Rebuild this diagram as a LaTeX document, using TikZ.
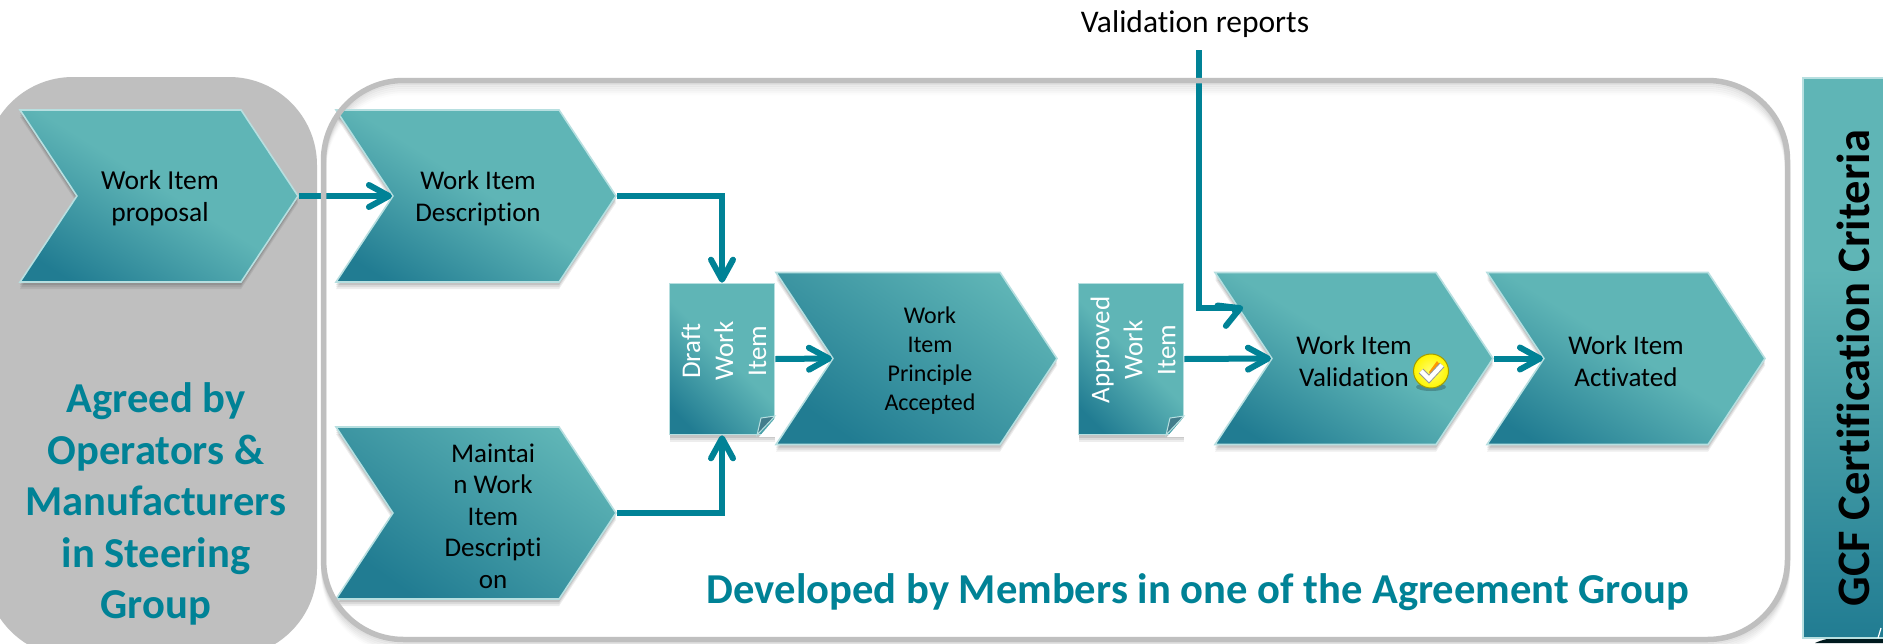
\documentclass[tikz,border=0pt]{standalone}
\usepackage{fontspec}
\setmainfont{Carlito}[Ligatures=NoCommon]
\usetikzlibrary{arrows.meta,shapes.symbols,shadows}
\definecolor{tealc}{HTML}{008296}
\definecolor{wilight}{HTML}{5FB5B6}
\definecolor{widark}{HTML}{217C92}
\definecolor{wiedge}{HTML}{B7DFE0}
\definecolor{grayc}{HTML}{BFBFBF}
\pgfdeclareverticalshading{wishade}{100bp}{color(0bp)=(widark);color(22bp)=(widark);color(52bp)=(wilight);color(100bp)=(wilight)}
\pgfdeclareverticalshading{wishadeb}{100bp}{color(0bp)=(widark);color(26bp)=(widark);color(76bp)=(wilight);color(100bp)=(wilight)}
\pgfdeclareverticalshading{gcfshade}{100bp}{color(0bp)=(widark);color(25bp)=(widark);color(58bp)=(wilight);color(100bp)=(wilight)}
\tikzset{
  softshadow/.style={
    drop shadow={shadow xshift=0pt,shadow yshift=-7pt,opacity=.07,fill=black},
    drop shadow={shadow xshift=0pt,shadow yshift=-5pt,opacity=.08,fill=black},
    drop shadow={shadow xshift=0pt,shadow yshift=-3pt,opacity=.10,fill=black}},
  chevron/.style={signal,signal from=west,signal to=east,signal pointer angle=113,
    minimum width=278pt,minimum height=172pt,inner sep=0pt,draw=wiedge,line width=1.6pt,
    shading=wishade,shading angle=-32,softshadow},
  chevronb/.style={chevron,shading=wishadeb,shading angle=-35},
  wilabel/.style={inner sep=0pt,align=center,font=\fontsize{27}{32}\selectfont,text=black},
  docbox/.style={rectangle,minimum width=105pt,minimum height=151pt,inner sep=0pt,draw=wiedge,line width=1.6pt,
    shading=wishade,shading angle=-45,softshadow},
  doclabel/.style={inner sep=0pt,align=center,rotate=90,text=white,font=\fontsize{27}{33}\selectfont},
  flow/.style={draw=tealc,line width=6pt,-{Straight Barb[length=20pt,width=22pt,round,line width=6pt]}},
  flowline/.style={draw=tealc,line width=6pt},
  bigteal/.style={inner sep=0pt,align=center,text=tealc,font=\bfseries\fontsize{42.6}{51.6}\selectfont},
  foldw/.style={fill=white},
  foldd/.style={fill=widark!65!gray,draw=wiedge,line width=1pt},
}
\begin{document}
\begin{tikzpicture}[x=1pt,y=-1pt]
\useasboundingbox (0,0) rectangle (1883,643);
\fill[white] (0,0) rectangle (1883,643);
\node[rectangle,rounded corners=88pt,fill=grayc,minimum width=332pt,minimum height=580pt,inner sep=0pt] (steer) at (151,367) {};
% soft shadow of the frame
\foreach \d/\o in {2/.09,4/.07,6/.05,8/.04,10/.03,12/.02}
  \draw[black!60,opacity=\o,line width=5pt,rounded corners=80pt] (323.5,{80.5+\d}) rectangle (1787.5,{639.5+\d});
% nodes
\node[chevron] (prop) at (159,196) {};
\node[wilabel,font=\fontsize{27.5}{32}\selectfont] (proptext) at (160,198) {Work Item\\proposal};
\node[chevron,minimum width=280pt] (desc) at (476,196) {};
\node[wilabel] (desctext) at (478,198) {Work Item\\Description};
\node[chevronb,minimum width=280pt] (maint) at (476,513) {};
\node[wilabel,font=\fontsize{27}{31.6}\selectfont] (mainttext) at (493,516) {Maintai\\n Work\\Item\\Descripti\\on};
\node[docbox] (draft) at (722,359) {};
\node[doclabel] (drafttext) at (724,351) {Draft\\Work\\Item};
\node[chevronb,minimum width=281pt] (princ) at (916.5,358.5) {};
\node[wilabel,font=\fontsize{24}{29}\selectfont] (princtext) at (930,361) {Work\\Item\\Principle\\Accepted};
\node[docbox] (appr) at (1131,359) {};
\node[doclabel] (apprtext) at (1133,350) {Approved\\Work\\Item};
\node[chevron] (valid) at (1354,358.5) {};
\node[wilabel] (validtext) at (1354,361) {Work Item\\Validation\hspace{38pt}};
\node[chevron] (activ) at (1626,358.5) {};
\node[wilabel] (activtext) at (1626,361) {Work Item\\Activated};
% folds
\fill[foldw] (759,437) -- (777,437) -- (777,416) -- cycle;
\draw[foldd] (757,435) -- (761,418) -- (775,416) -- cycle;
\fill[foldw] (1167,437) -- (1185,437) -- (1185,416) -- cycle;
\draw[foldd] (1166,435) -- (1170,418) -- (1184,416) -- cycle;
% check icon
\fill[black,opacity=.22] (1431,387) ellipse (15pt and 4pt);
\shade[inner color=yellow!55!white,outer color=yellow!92!orange,draw=olive!80!yellow,line width=1pt] (1431,371) ellipse (17.5pt and 17pt);
\fill[orange!80!yellow] (1429,372) -- (1437,361) -- (1441,366) -- (1432,377) -- cycle;
\draw[gray!80,line width=6.4pt,line join=miter] (1421,371) -- (1429,379) -- (1442,365);
\draw[white,line width=4.4pt,line join=miter] (1421,371) -- (1429,379) -- (1442,365);
% connectors
\coordinate (tapin) at (1199,50);
\coordinate (elbowa) at (1199,308);
\coordinate (tapmid) at (1236,308);
\coordinate (tapfrom) at (1232,311.5);
\coordinate (tapend) at (1243,307);
\draw[flow] (prop.east) -- (desc.west);
\draw[flow] (desc.east) -| (draft.north);
\draw[flow] (maint.east) -| (draft.south);
\draw[flow] (draft.east) -- (princ.west);
\draw[flow] (appr.east) -- (valid.west);
\draw[flow] (valid.east) -- (activ.west);
\draw[flowline] (tapin) -- (elbowa) -- (tapmid);
\draw[flow] (tapfrom) -- (tapend);
% frame
\node[rectangle,rounded corners=80pt,draw=grayc,line width=5.5pt,minimum width=1464pt,minimum height=559pt,inner sep=0pt] (frame) at (1055.5,360) {};
\node[inner sep=0pt,font=\fontsize{31.5}{36}\selectfont] (valrep) at (1195,24) {Validation reports};
% big texts
\node[bigteal] (agreed) at (156,504) {Agreed by\\Operators \&\\Manufacturers\\in Steering\\Group};
\node[bigteal] (dev) at (1198,592) {Developed by Members in one of the Agreement Group};
% GCF
\fill[black!80!tealc] (1815,643) .. controls (1830,636) and (1850,636) .. (1883,636) -- (1883,643) -- cycle;
\node[rectangle,minimum width=88pt,minimum height=560pt,inner sep=0pt,draw=wiedge,line width=1.6pt,shading=gcfshade] (gcf) at (1847,358) {};
\draw[white,line width=1.2pt] (1878,638) -- (1881,628);
\node[inner sep=0pt,rotate=90,font=\bfseries\fontsize{46.5}{50}\selectfont,text=black] (gcftext) at (1853,368) {GCF Certification Criteria};
\end{tikzpicture}
\end{document}
